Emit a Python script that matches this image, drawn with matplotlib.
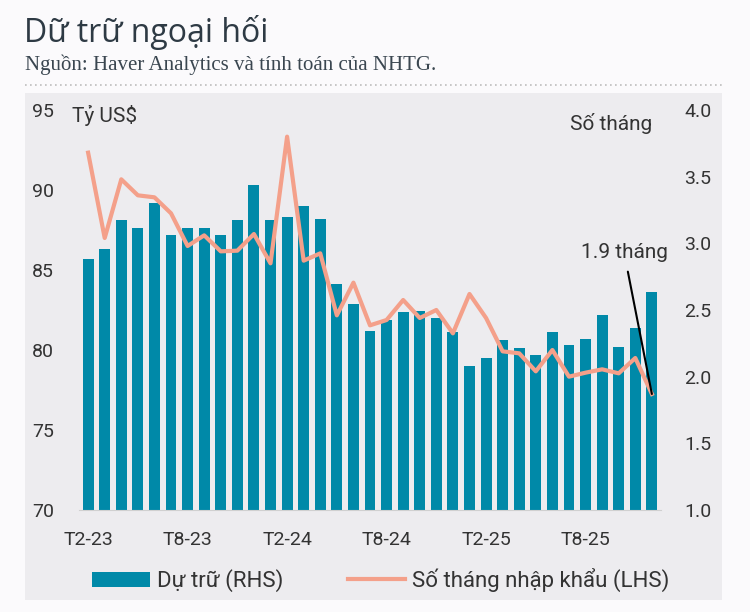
import numpy as np
import matplotlib
matplotlib.use('Agg')
import matplotlib.pyplot as plt
from matplotlib.patches import Rectangle
from matplotlib.lines import Line2D

# Feb 2023 .. Dec 2025, monthly
reserves = [85.7, 86.3, 88.1, 87.6, 89.2, 87.2, 87.6, 87.6, 87.2, 88.1,
            90.3, 88.1, 88.3, 89.0, 88.2, 84.1, 82.9, 81.2, 81.9, 82.4,
            82.45, 82.0, 81.1, 79.0, 79.5, 80.6, 80.1, 79.7, 81.1, 80.3,
            80.7, 82.2, 80.2, 81.4, 83.6]
import_months = [3.68, 3.04, 3.48, 3.36, 3.345, 3.225, 2.98, 3.06, 2.94, 2.945,
                 3.07, 2.85, 3.80, 2.87, 2.925, 2.46, 2.705, 2.385, 2.425, 2.575,
                 2.44, 2.5, 2.325, 2.62, 2.44, 2.19, 2.175, 2.04, 2.2, 2.0,
                 2.03, 2.055, 2.025, 2.14, 1.87]
tick_idx = [0, 6, 12, 18, 24, 30]
tick_labels = ['T2-23', 'T8-23', 'T2-24', 'T8-24', 'T2-25', 'T8-25']

bar_color = '#0089A8'
line_color = '#F4A08A'
text_color = '#333333'
panel_color = '#EDECEF'

plt.rcParams['font.family'] = ['Roboto', 'DejaVu Sans']

fig = plt.figure(figsize=(7.5, 6.12), dpi=100)
fig.patch.set_facecolor('#FBFAFC')

W, H = 750, 612
def fx(px):
    return px / W
def fy(py):
    return 1 - py / H

# grey panel behind the chart
fig.add_artist(Rectangle((fx(25), fy(600)), fx(722) - fx(25), fy(93) - fy(600),
                         transform=fig.transFigure, facecolor=panel_color,
                         edgecolor='none', zorder=-5))
fig.add_artist(Line2D([fx(25), fx(722)], [fy(85), fy(85)], transform=fig.transFigure,
                      color='#BDBDBD', lw=1.2, linestyle=(0, (1, 2))))

fig.text(fx(24), fy(33), 'Dữ trữ ngoại hối', family=['Open Sans', 'DejaVu Sans'],
         fontsize=23, color='#2E3A44', va='center', ha='left')
fig.text(fx(25), fy(65), 'Nguồn: Haver Analytics và tính toán của NHTG.',
         family=['Liberation Serif', 'DejaVu Serif'], fontsize=15,
         color='#3A4650', va='center', ha='left')

ax = fig.add_axes([fx(79), fy(510), fx(661) - fx(79), fy(110) - fy(510)])
ax.set_facecolor('none')
x = np.arange(len(reserves))
bars = ax.bar(x, np.array(reserves) - 70, bottom=70, width=0.66, color=bar_color,
              label='Dự trữ (RHS)', zorder=2)
ax.set_ylim(70, 95)
ax.set_xlim(-0.55, len(reserves) - 0.45)
ax.set_yticks([70, 75, 80, 85, 90, 95])
ax.set_xticks(tick_idx)
ax.set_xticklabels(tick_labels)
for s in ['top', 'left', 'right']:
    ax.spines[s].set_visible(False)
ax.spines['bottom'].set_color('#D0D0D0')
ax.tick_params(axis='both', length=0, labelsize=14, colors=text_color)
ax.tick_params(axis='y', pad=18)
ax.tick_params(axis='x', pad=15)

ax2 = ax.twinx()
ax2.set_facecolor('none')
line, = ax2.plot(x, import_months, color=line_color, lw=3, solid_joinstyle='round',
                 label='Số tháng nhập khẩu (LHS)', zorder=3)
ax2.set_ylim(1.0, 4.0)
ax2.set_yticks([1.0, 1.5, 2.0, 2.5, 3.0, 3.5, 4.0])
ax2.set_yticklabels(['%.1f' % v for v in [1.0, 1.5, 2.0, 2.5, 3.0, 3.5, 4.0]])
for s in ax2.spines.values():
    s.set_visible(False)
ax2.tick_params(axis='y', length=0, labelsize=14, colors=text_color, pad=17)

ax.text(-0.012, 0.985, 'Tỷ US$', transform=ax.transAxes, fontsize=15,
        color=text_color, ha='left', va='center')
ax.text(0.985, 0.967, 'Số tháng', transform=ax.transAxes, fontsize=15,
        color=text_color, ha='right', va='center')

ax2.annotate('%.1f tháng' % import_months[-1], xy=(x[-1], import_months[-1]),
             xytext=(-20, 95), textcoords='offset points', ha='center', va='bottom',
             fontsize=15, color=text_color,
             arrowprops=dict(arrowstyle='-', color='black', lw=1.5,
                             shrinkA=5, shrinkB=0), zorder=5)

fig.legend(handles=[bars, line], loc='center', bbox_to_anchor=(fx(381), fy(580)),
           ncol=2, frameon=False, fontsize=16, handlelength=2.6, handleheight=0.65,
           columnspacing=2.9, handletextpad=0.3, labelcolor=text_color)

fig.savefig('out.png', dpi=100, facecolor=fig.get_facecolor())
